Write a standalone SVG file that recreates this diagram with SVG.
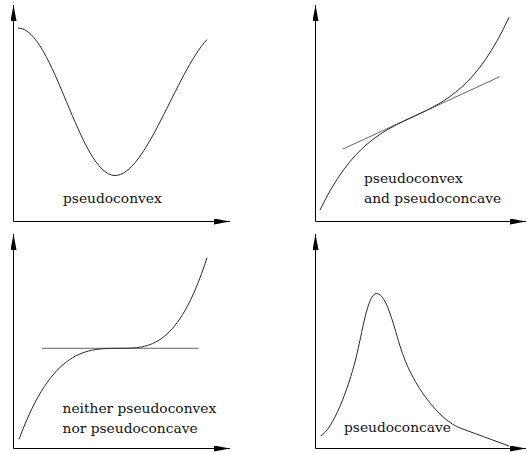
<svg xmlns="http://www.w3.org/2000/svg" width="527" height="453" viewBox="0 0 527 453">
  <style>
    .axis { stroke: #000; stroke-width: 1; fill: none; marker-end: url(#arrow); }
    .curve { stroke: #2a2a2a; stroke-width: 1; fill: none; }
    .tangent { stroke: #555; stroke-width: 0.9; fill: none; }
    .label { font-family: "DejaVu Serif", "Liberation Serif", serif; font-size: 13.8px; fill: #111; }
  </style>
  <defs>
    <marker id="arrow" markerUnits="userSpaceOnUse" markerWidth="17" markerHeight="7" refX="16" refY="3" orient="auto">
      <path d="M0,0 L16,3 L0,6 z" fill="#000"/>
    </marker>
  </defs>
  <rect width="527" height="453" fill="#fff"/>

  <g id="panel-pseudoconvex">
    <line class="axis" x1="13.5" y1="221.5" x2="13.5" y2="5"/>
    <line class="axis" x1="13.5" y1="221.5" x2="230" y2="221.5"/>
    <path class="curve" d="M18,28 C53.3,28 79.7,175.5 115,175.5 C145.7,175.5 176.3,72.8 207,39.5"/>
    <text class="label" x="63" y="203">pseudoconvex</text>
  </g>

  <g id="panel-both">
    <line class="axis" x1="315.5" y1="221.5" x2="315.5" y2="5"/>
    <line class="axis" x1="315.5" y1="221.5" x2="526" y2="221.5"/>
    <line class="tangent" x1="343" y1="149" x2="499.7" y2="76.7"/>
    <path class="curve" d="M320,210 C383,79 446,154.9 509,17.2"/>
    <text class="label" x="364" y="182.5">pseudoconvex</text>
    <text class="label" x="364" y="203">and pseudoconcave</text>
  </g>

  <g id="panel-neither">
    <line class="axis" x1="13.5" y1="448.5" x2="13.5" y2="234"/>
    <line class="axis" x1="13.5" y1="448.5" x2="230" y2="448.5"/>
    <line class="tangent" x1="42" y1="348.3" x2="198.5" y2="348.3"/>
    <path class="curve" d="M19,439.3 C52.7,348.3 86.3,348.3 120,348.3 C149,348.3 178,348.3 207,257.7"/>
    <text class="label" x="62.5" y="413">neither pseudoconvex</text>
    <text class="label" x="62.5" y="432.5">nor pseudoconcave</text>
  </g>

  <g id="panel-pseudoconcave">
    <line class="axis" x1="315.5" y1="448.5" x2="315.5" y2="234"/>
    <line class="axis" x1="315.5" y1="448.5" x2="526" y2="448.5"/>
    <path class="curve" d="M320.5,436 C332.5,430 348,390 356,358 C362,334 367.5,293.5 376.5,293.5 C386,293.5 393,323 400,346 C412,386 440,420.4 460,428 L509,446"/>
    <text class="label" x="344" y="432">pseudoconcave</text>
  </g>
</svg>
